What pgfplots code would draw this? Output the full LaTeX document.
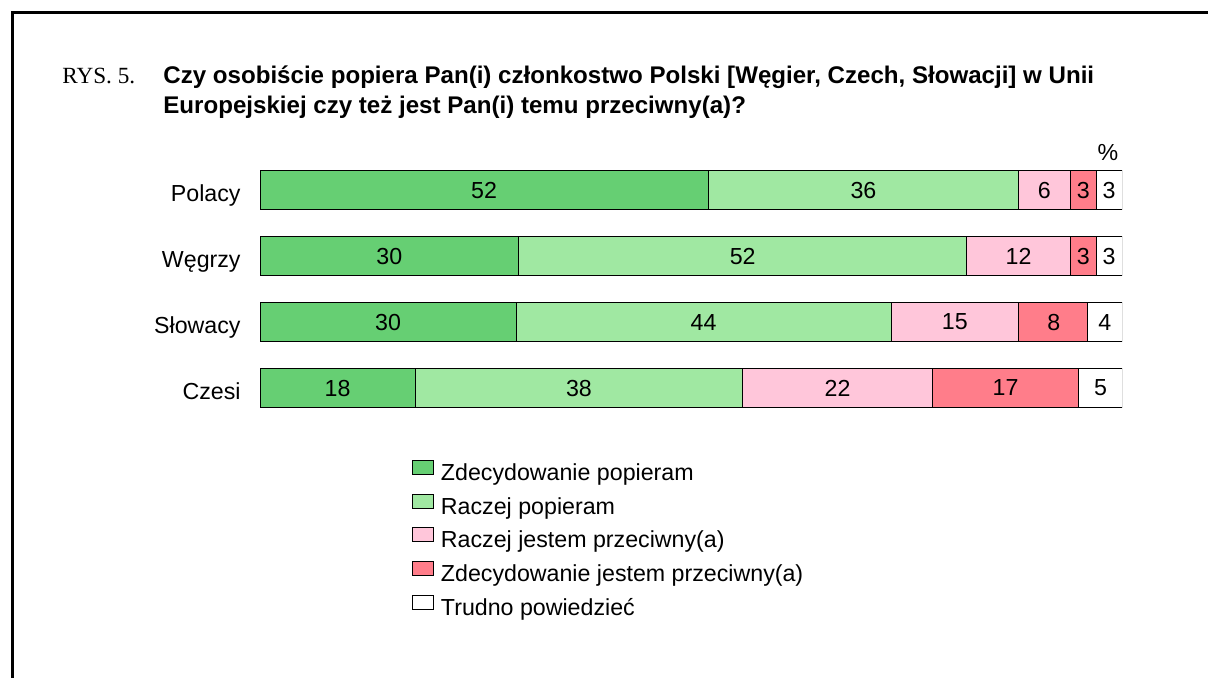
\documentclass[border=0pt]{standalone}
\usepackage{fontspec}
\setmainfont{Liberation Sans}
\newfontfamily\seriffont{Liberation Serif}
\usepackage{pgfplots}
\usepackage{pgfplotstable}
\pgfplotsset{compat=1.18}
\definecolor{dgreen}{RGB}{102,207,115}
\definecolor{lgreen}{RGB}{160,232,162}
\definecolor{lpink}{RGB}{255,198,218}
\definecolor{lred}{RGB}{255,125,138}
\newcommand{\fs}{\fontsize{11.6}{14}\selectfont}

\pgfplotstableread{
y a b c d e
0 18 38 22 17 5
1 29.7 43.5 14.8 8.0 4.0
2 30 52 12 3 3
3 52 36 6 3 3
}\bars

\pgfplotstableread{
x y lab
9 0 18
37 0 38
67 0 22
86.5 0 17
97.5 0 5
14.85 1 30
51.45 1 44
80.6 1 15
92.1 1 8
98.0 1 4
15 2 30
56 2 52
88 2 12
95.5 2 3
98.5 2 3
26 3 52
70 3 36
91 3 6
95.5 3 3
98.5 3 3
}\labs

\pgfplotsset{common/.style={
  scale only axis, width=431pt, height=132pt,
  xmin=0, xmax=100, ymin=-0.5, ymax=3.5,
  at={(O)}, anchor=south west,
}}

\begin{document}
\begin{tikzpicture}[x=0.5pt,y=-0.5pt]
\useasboundingbox (0,0) rectangle (1208,677);
\coordinate (O) at (260,421);
\draw[line width=1.5pt] (12,700) -- (12,12) -- (1230,12);
\node[font=\seriffont\fs, anchor=base west, inner sep=0pt] at (62,83) {RYS. 5.};
\node[font=\bfseries\fontsize{12.05}{15}\selectfont, anchor=base west, inner sep=0pt] at (163,83) {Czy osobiście popiera Pan(i) członkostwo Polski [Węgier, Czech, Słowacji] w Unii};
\node[font=\bfseries\fontsize{12.05}{15}\selectfont, anchor=base west, inner sep=0pt] at (163,113) {Europejskiej czy też jest Pan(i) temu przeciwny(a)?};
\node[font=\fs, anchor=base, inner sep=0pt] at (1108,160) {\%};

\begin{axis}[common,
  xbar stacked, bar width=19.5pt,
  axis line style={draw=none},
  tick style={draw=none},
  xtick=\empty,
  ytick={0,1,2,3},
  yticklabels={Czesi,Słowacy,Węgrzy,Polacy},
  yticklabel style={font=\fs, inner sep=0pt, anchor=east, text height=8.3pt, text depth=0pt, xshift=-9.5pt, yshift=-1.5pt},
  major tick length=0pt,
  legend cell align=left,
  legend image code/.code={\draw[#1, line width=0.5pt] (0pt,0pt) rectangle (10.5pt,7pt);},
  legend style={draw=none, fill=none, inner sep=0pt, outer sep=0pt,
    at={(rel axis cs:0.1763,-0.148)}, anchor=north west,
    font=\fs, row sep=4.1pt,
    nodes={inner sep=0pt, text height=8.5pt, text depth=2.5pt},
  },
  every axis plot/.append style={draw=black, line width=0.5pt},
]
\addplot[fill=dgreen] table[x=a,y=y]{\bars};
\addplot[fill=lgreen] table[x=b,y=y]{\bars};
\addplot[fill=lpink] table[x=c,y=y]{\bars};
\addplot[fill=lred] table[x=d,y=y]{\bars};
\addplot[fill=white] table[x=e,y=y]{\bars};
\legend{\hspace{3.5pt}Zdecydowanie popieram,\hspace{3.5pt}Raczej popieram,\hspace{3.5pt}Raczej jestem przeciwny(a),\hspace{3.5pt}Zdecydowanie jestem przeciwny(a),\hspace{3.5pt}Trudno powiedzieć}
\end{axis}

\begin{axis}[common, hide axis]
\addplot[draw=none, mark=none, nodes near coords, point meta=explicit symbolic,
  nodes near coords align=center,
  every node near coord/.append style={font=\fs, inner sep=0pt}]
  table[x=x,y=y,meta=lab]{\labs};
\end{axis}
\end{tikzpicture}
\end{document}
